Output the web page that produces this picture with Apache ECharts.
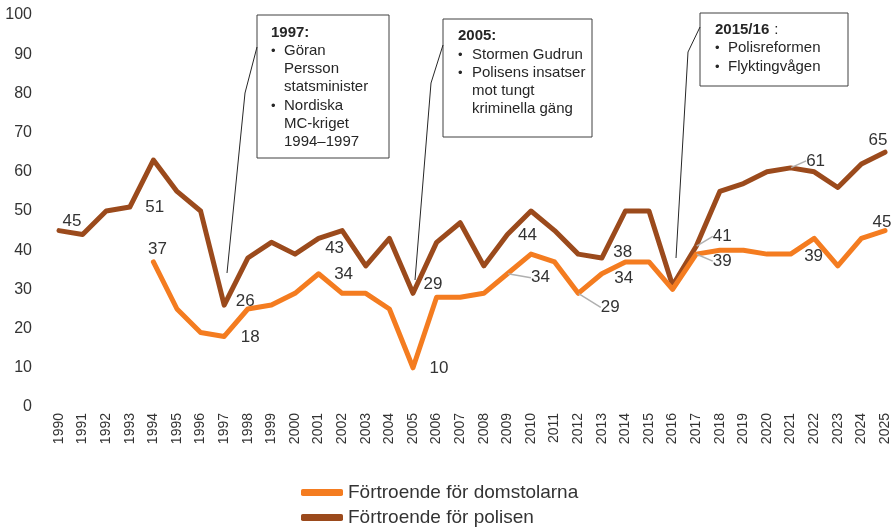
<!DOCTYPE html>
<html>
<head>
<meta charset="utf-8">
<script src="https://cdn.jsdelivr.net/npm/echarts@6/dist/echarts.min.js"></script>
<style>
  html, body { margin: 0; padding: 0; background: #fff; }
  #main { width: 893px; height: 528px; }
</style>
</head>
<body>
<div id="main"></div>
<script>
// årtal på x-axeln
var years = [];
for (var y = 1990; y <= 2025; y++) years.push(String(y));

// Förtroende för polisen
var police = [45, 44, 50, 51, 63, 55, 50, 26, 38, 42, 39, 43, 45, 36, 43, 29, 42, 47, 36, 44,
              50, 45, 39, 38, 50, 50, 31, 41, 55, 57, 60, 61, 60, 56, 62, 65];
// Förtroende för domstolarna (från 1994)
var courts = [null, null, null, null, 37, 25, 19, 18, 25, 26, 29, 34, 29, 29, 25, 10, 28, 28, 29, 34,
              39, 37, 29, 34, 37, 37, 30, 39, 40, 40, 39, 39, 43, 36, 43, 45];

var yTicks = [0, 10, 20, 30, 40, 50, 60, 70, 80, 90, 100];

// vilka punkter som har etikett: år -> [dx, dy, ledarlinje]
var policeLabelPos = {
    '1990': [13, -9], '1993': [25, 0], '1997': [21, -4], '2001': [16, 10], '2005': [20, -9],
    '2009': [20, 1], '2013': [21, -6], '2017': [26, -10, true], '2021': [25, -7, true], '2025': [-7, -12]
};
var courtsLabelPos = {
    '1994': [4, -13], '1997': [26, 1], '2001': [25, 1], '2005': [26, 1], '2009': [33, 4, true],
    '2012': [32, 14, true], '2013': [22, 5], '2017': [26, 7, true], '2021': [23, 2], '2025': [-3, -8]
};

var ORANGE = '#F47C20';
var BROWN = '#9B4A1C';
var TEXT = '#333333';
var FONT = 'Liberation Sans';

function buildData(values, labelPos) {
    return values.map(function (v, i) {
        var p = labelPos[years[i]];
        var item = { value: v };
        if (p) {
            item.label = { show: true };
            if (p[2]) item.labelLine = { show: true };
        }
        return item;
    });
}
var allLabelPos = [courtsLabelPos, policeLabelPos];

var myChart = echarts.init(document.getElementById('main'));

// textrutor med kommentarer
function box(x, y, w, h, head, lines, bx, tx) {
    var children = [{
        type: 'rect',
        shape: { x: x, y: y, width: w, height: h },
        style: { fill: '#fff', stroke: '#404040', lineWidth: 1 }
    }, {
        type: 'text',
        x: head[1], y: head[2],
        style: { text: head[0], font: 'bold 15px ' + FONT, fill: '#262626', verticalAlign: 'middle' }
    }];
    lines.forEach(function (l) {
        if (l[1]) {
            children.push({ type: 'text', x: bx, y: l[2],
                style: { text: '•', font: '13px ' + FONT, fill: '#262626', verticalAlign: 'middle' } });
        }
        children.push({ type: 'text', x: tx, y: l[2],
            style: { text: l[0], font: '15px ' + FONT, fill: '#262626', verticalAlign: 'middle' } });
    });
    return { type: 'group', z: 100, children: children };
}
function callout(points) {
    return { type: 'polyline', z: 99, shape: { points: points },
        style: { stroke: '#262626', lineWidth: 1, fill: null } };
}

option = {
    animation: false,
    textStyle: { fontFamily: FONT },
    grid: { left: 59, right: 8, top: 15, bottom: 121, containLabel: false },
    legend: {
        orient: 'vertical',
        left: 296,
        top: 478,
        height: 80,
        itemWidth: 42,
        itemHeight: 7,
        itemGap: 6,
        icon: 'roundRect',
        textStyle: { fontSize: 19, color: TEXT, fontFamily: FONT },
        data: ['Förtroende för domstolarna', 'Förtroende för polisen']
    },
    xAxis: {
        type: 'category',
        boundaryGap: false,
        data: years,
        axisLine: { show: false },
        axisTick: { show: false },
        axisLabel: { rotate: 90, fontSize: 14, color: TEXT, margin: 6, interval: 0, fontFamily: FONT }
    },
    yAxis: {
        type: 'value',
        min: 0, max: 100, interval: 10,
        splitLine: { show: false },
        axisLine: { show: false },
        axisTick: { show: false },
        axisLabel: { fontSize: 16, color: TEXT, margin: 27, fontFamily: FONT }
    },
    series: [
        {
            name: 'Förtroende för domstolarna',
            type: 'line',
            data: buildData(courts, courtsLabelPos),
            symbol: 'circle',
            symbolSize: 1,
            showAllSymbol: true,
            itemStyle: { color: ORANGE },
            lineStyle: { width: 5, color: ORANGE, cap: 'round', join: 'round' },
            label: { show: false, position: 'inside', fontSize: 17, color: TEXT, fontFamily: FONT },
            labelLine: { show: false, lineStyle: { color: '#b0b0b0', width: 1.5 } },
            z: 3
        },
        {
            name: 'Förtroende för polisen',
            type: 'line',
            data: buildData(police, policeLabelPos),
            symbol: 'circle',
            symbolSize: 1,
            showAllSymbol: true,
            itemStyle: { color: BROWN },
            lineStyle: { width: 5, color: BROWN, cap: 'round', join: 'round' },
            label: { show: false, position: 'inside', fontSize: 17, color: TEXT, fontFamily: FONT },
            labelLine: { show: false, lineStyle: { color: '#b0b0b0', width: 1.5 } },
            z: 2
        }
    ],
    labelLayout: function (params) {
        var p = allLabelPos[params.seriesIndex][years[params.dataIndex]];
        if (!p) return {};
        return { dx: p[0], dy: p[1] };
    },
    graphic: [
        callout([[227, 273], [245, 93], [257, 47]]),
        callout([[415, 280], [431, 83], [443, 45]]),
        callout([[676, 258], [688, 52], [700, 27]]),
        box(257, 15, 132, 143, ['1997:', 271, 33], [
            ['Göran', true, 51], ['Persson', false, 69], ['statsminister', false, 87],
            ['Nordiska', true, 106], ['MC-kriget', false, 124], ['1994–1997', false, 142]
        ], 271, 284),
        box(443, 19, 149, 118, ['2005:', 458, 36], [
            ['Stormen Gudrun', true, 55], ['Polisens insatser', true, 73],
            ['mot tungt', false, 91], ['kriminella gäng', false, 109]
        ], 458, 472),
        box(700, 13, 148, 73, ['2015/16', 715, 30], [
            ['Polisreformen', true, 48], ['Flyktingvågen', true, 67]
        ], 715, 728),
        { type: 'text', z: 101, x: 770, y: 30,
          style: { text: ' :', font: '15px ' + FONT, fill: '#262626', verticalAlign: 'middle' } }
    ]
};

myChart.setOption(option);
</script>
</body>
</html>
